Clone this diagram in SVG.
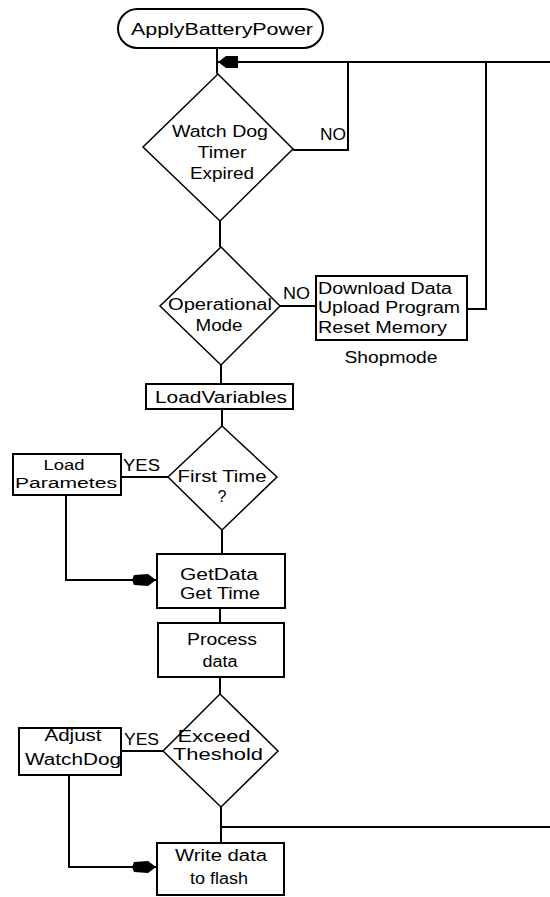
<svg xmlns="http://www.w3.org/2000/svg" width="550" height="897" viewBox="0 0 550 897">
<style>
.s{fill:none;stroke:#000;stroke-width:2}
.d{fill:#fff;stroke:#000;stroke-width:1.5}
.b{fill:#fff;stroke:#000;stroke-width:2}
.a{fill:#000;stroke:none}
text{font-family:"Liberation Sans",Arial,sans-serif;font-size:16px;fill:#000}
.m{text-anchor:middle}
.sm{font-size:14px}
</style>
<rect width="550" height="897" fill="#fff"/>
<g id="connectors">
<path class="s" d="M217,48 V74"/>
<path class="s" d="M217,62 H550"/>
<path class="s" d="M293,150 H348 V62"/>
<path class="s" d="M486,62 V309 H467"/>
<path class="s" d="M220,221 V247"/>
<path class="s" d="M280,306 H316"/>
<path class="s" d="M221,365 V384"/>
<path class="s" d="M222,409 V426"/>
<path class="s" d="M168,477 H121"/>
<path class="s" d="M222,530 V554"/>
<path class="s" d="M66,495 V580 H157"/>
<path class="s" d="M220,608 V623"/>
<path class="s" d="M220,677 V694"/>
<path class="s" d="M163,751 H121"/>
<path class="s" d="M221,807 V843"/>
<path class="s" d="M221,827 H550"/>
<path class="s" d="M69,775 V867 H157"/>
<polygon class="a" points="218,62 226,56 238,56 238,68 226,68"/>
<polygon class="a" points="156,580 148,574 134,575 132,580 134,585 148,586"/>
<polygon class="a" points="156,867 148,861 134,862 132,867 134,872 148,873"/>
<text x="320" y="140" textLength="26" lengthAdjust="spacingAndGlyphs">NO</text>
<text x="283" y="299" textLength="27" lengthAdjust="spacingAndGlyphs">NO</text>
<text x="123" y="471" textLength="37" lengthAdjust="spacingAndGlyphs">YES</text>
<text x="124" y="745" textLength="35" lengthAdjust="spacingAndGlyphs">YES</text>
</g>
<g id="start">
<rect class="b" x="118" y="9" width="205" height="39" rx="19.5" ry="19.5"/>
<text class="m" x="222" y="35" textLength="182" lengthAdjust="spacingAndGlyphs">ApplyBatteryPower</text>
</g>
<g id="watchdog">
<polygon class="d" points="218,74 293,149 220,221 143,147"/>
<text class="m" x="220" y="137" textLength="96" lengthAdjust="spacingAndGlyphs">Watch Dog</text>
<text class="m" x="222" y="158" textLength="49" lengthAdjust="spacingAndGlyphs">Timer</text>
<text class="m" x="222" y="179" textLength="64" lengthAdjust="spacingAndGlyphs">Expired</text>
</g>
<g id="opmode">
<polygon class="d" points="221,247 280,306 221,365 160,306"/>
<text class="m" x="220" y="310" textLength="104" lengthAdjust="spacingAndGlyphs">Operational</text>
<text class="m" x="219" y="331" textLength="47" lengthAdjust="spacingAndGlyphs">Mode</text>
</g>
<g id="shopmode">
<rect class="b" x="316" y="276" width="151" height="64"/>
<text x="318" y="294" textLength="134" lengthAdjust="spacingAndGlyphs">Download Data</text>
<text x="318" y="313" textLength="142" lengthAdjust="spacingAndGlyphs">Upload Program</text>
<text x="318" y="333" textLength="129" lengthAdjust="spacingAndGlyphs">Reset Memory</text>
<text class="m" x="391" y="363" textLength="93" lengthAdjust="spacingAndGlyphs">Shopmode</text>
</g>
<g id="loadvars">
<rect class="b" x="146" y="384" width="147" height="25"/>
<text class="m" x="221" y="403" textLength="132" lengthAdjust="spacingAndGlyphs">LoadVariables</text>
</g>
<g id="firsttime">
<polygon class="d" points="222,426 277,477 222,530 168,477"/>
<text class="m" x="222" y="482" textLength="89" lengthAdjust="spacingAndGlyphs">First Time</text>
<text class="m" x="222" y="502">?</text>
</g>
<g id="loadparams">
<rect class="b" x="13" y="454" width="108" height="41"/>
<text class="m sm" x="64" y="470" textLength="41" lengthAdjust="spacingAndGlyphs">Load</text>
<text class="m sm" x="66" y="488" textLength="102" lengthAdjust="spacingAndGlyphs">Parametes</text>
</g>
<g id="getdata">
<rect class="b" x="157" y="554" width="128" height="54"/>
<text class="m" x="219" y="580" textLength="78" lengthAdjust="spacingAndGlyphs">GetData</text>
<text class="m" x="220" y="599" textLength="80" lengthAdjust="spacingAndGlyphs">Get Time</text>
</g>
<g id="process">
<rect class="b" x="158" y="623" width="126" height="54"/>
<text class="m" x="222" y="645" textLength="70" lengthAdjust="spacingAndGlyphs">Process</text>
<text class="m" x="220" y="667" textLength="35" lengthAdjust="spacingAndGlyphs">data</text>
</g>
<g id="threshold">
<polygon class="d" points="220,694 278,751 221,807 163,751"/>
<text class="m" x="214" y="742" textLength="73" lengthAdjust="spacingAndGlyphs">Exceed</text>
<text class="m" x="218" y="760" textLength="90" lengthAdjust="spacingAndGlyphs">Theshold</text>
</g>
<g id="adjust">
<rect class="b" x="19" y="728" width="102" height="47"/>
<text class="m" x="73" y="741" textLength="57" lengthAdjust="spacingAndGlyphs">Adjust</text>
<text class="m" x="73" y="765" textLength="96" lengthAdjust="spacingAndGlyphs">WatchDog</text>
</g>
<g id="write">
<rect class="b" x="157" y="843" width="127" height="52"/>
<text class="m" x="221" y="861" textLength="92" lengthAdjust="spacingAndGlyphs">Write data</text>
<text class="m" x="219" y="884" textLength="58" lengthAdjust="spacingAndGlyphs">to flash</text>
</g>
</svg>
